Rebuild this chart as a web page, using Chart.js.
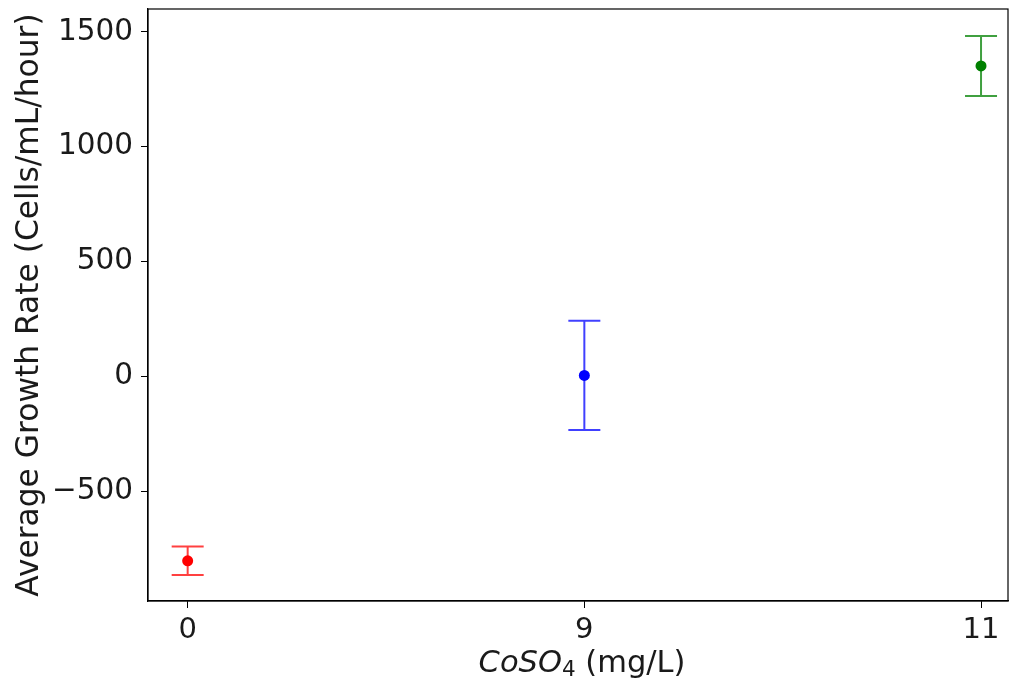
<!DOCTYPE html>
<html><head><meta charset="utf-8">
<script src="https://cdn.jsdelivr.net/npm/chart.js@4/dist/chart.umd.min.js"></script>
<style>html,body{margin:0;padding:0;background:#fff}canvas{display:block}</style>
</head><body>
<canvas id="c" width="1009" height="684"></canvas>
<script>
const categories = ['0', '9', '11'];
const means = [-802, 5, 1352];
const errors = [62, 238, 131];
const colors = ['#ff0000', '#0000ff', '#008000'];
const errColors = ['rgba(255,0,0,0.75)', 'rgba(0,0,255,0.75)', 'rgba(0,128,0,0.75)'];
const yTicks = [-500, 0, 500, 1000, 1500];
const yTitle = 'Average Growth Rate (Cells/mL/hour)';
const FONT = '"DejaVu Sans", sans-serif';

const errorBarPlugin = {
  id: 'errbars',
  afterDatasetsDraw(chart) {
    const ctx = chart.ctx, xs = chart.scales.x, ys = chart.scales.y;
    ctx.save();
    means.forEach((m, i) => {
      const px = xs.getPixelForValue(i);
      const top = ys.getPixelForValue(m + errors[i]);
      const bot = ys.getPixelForValue(m - errors[i]);
      ctx.strokeStyle = errColors[i];
      ctx.lineWidth = 2;
      ctx.beginPath();
      ctx.moveTo(px, top); ctx.lineTo(px, bot);
      ctx.moveTo(px - 16, top); ctx.lineTo(px + 16, top);
      ctx.moveTo(px - 16, bot); ctx.lineTo(px + 16, bot);
      ctx.stroke();
      ctx.fillStyle = colors[i];
      ctx.beginPath();
      ctx.arc(px, ys.getPixelForValue(m), 5.5, 0, Math.PI * 2);
      ctx.fill();
    });
    ctx.restore();
  },
  afterDraw(chart) {
    const ctx = chart.ctx, a = chart.chartArea;
    ctx.save();
    ctx.strokeStyle = '#000';
    ctx.lineWidth = 1.2;
    ctx.strokeRect(a.left, a.top, a.right - a.left, a.bottom - a.top);
    // x title
    ctx.fillStyle = '#1a1a1a';
    ctx.textBaseline = 'alphabetic';
    const base = 672;
    const f1 = 'italic 30.5px ' + FONT, f2 = '21.5px ' + FONT, f3 = '30.5px ' + FONT;
    ctx.font = f1; const w1 = ctx.measureText('CoSO').width;
    ctx.font = f2; const w2 = ctx.measureText('4').width;
    ctx.font = f3; const w3 = ctx.measureText(' (mg/L)').width;
    let x = (a.left + a.right) / 2 - (w1 + w2 + w3) / 2 + 4;
    ctx.textAlign = 'left';
    ctx.font = f1; ctx.fillText('CoSO', x, base); x += w1;
    ctx.font = f2; ctx.fillText('4', x, base + 4); x += w2;
    ctx.font = f3; ctx.fillText(' (mg/L)', x, base);
    // y title
    ctx.save();
    ctx.translate(30, (a.top + a.bottom) / 2);
    ctx.rotate(-Math.PI / 2);
    ctx.textAlign = 'center'; ctx.textBaseline = 'middle';
    ctx.font = '31.3px ' + FONT;
    ctx.fillText(yTitle, 0, 0);
    ctx.restore();
    ctx.restore();
  }
};

new Chart(document.getElementById('c'), {
  type: 'scatter',
  data: { datasets: [{ data: means.map((m, i) => ({ x: i, y: m })), pointRadius: 0, backgroundColor: colors }] },
  options: {
    responsive: false, animation: false, devicePixelRatio: 1,
    layout: { padding: { top: 9, right: 1, left: 0, bottom: 0 } },
    plugins: { legend: { display: false }, tooltip: { enabled: false } },
    scales: {
      x: {
        type: 'linear', min: -0.1, max: 2.068,
        afterBuildTicks: s => { s.ticks = categories.map((c, i) => ({ value: i })); },
        afterFit: s => { s.height = 83; s.paddingLeft = 0; s.paddingRight = 0; },
        ticks: { callback: (v) => categories[v], color: '#1a1a1a', font: { family: FONT, size: 29 }, padding: 5, maxRotation: 0, autoSkip: false },
        grid: { drawOnChartArea: false, drawTicks: true, tickLength: 7, color: '#000' },
        border: { display: true, color: '#000', width: 1.2 }
      },
      y: {
        min: -977, max: 1600,
        afterBuildTicks: s => { s.ticks = yTicks.map(v => ({ value: v })); },
        afterFit: s => { s.width = 148; s.paddingTop = 0; s.paddingBottom = 0; },
        ticks: { callback: v => (v < 0 ? '\u2212' + Math.abs(v) : String(v)), color: '#1a1a1a', font: { family: FONT, size: 29.5 }, padding: 8, autoSkip: false },
        grid: { drawOnChartArea: false, drawTicks: true, tickLength: 7, color: '#000' },
        border: { display: true, color: '#000', width: 1.2 }
      }
    }
  },
  plugins: [errorBarPlugin]
});
</script>
</body></html>
